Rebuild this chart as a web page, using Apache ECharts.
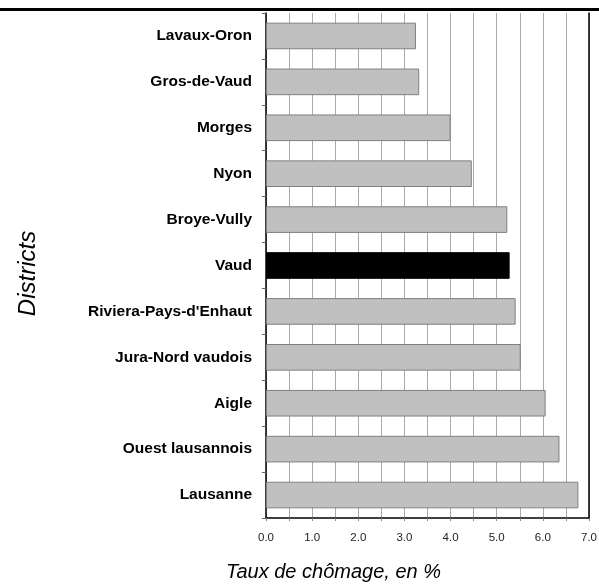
<!DOCTYPE html>
<html><head><meta charset="utf-8">
<script src="https://cdn.jsdelivr.net/npm/echarts@6/dist/echarts.min.js"></script>
<style>html,body{margin:0;padding:0;background:#fff}#c{width:599px;height:584px}</style>
</head><body><div id="c"></div>
<script>
// Categories listed top to bottom
const categories = ["Lavaux-Oron","Gros-de-Vaud","Morges","Nyon","Broye-Vully","Vaud","Riviera-Pays-d'Enhaut","Jura-Nord vaudois","Aigle","Ouest lausannois","Lausanne"];
const values = [3.25, 3.32, 4.00, 4.46, 5.23, 5.28, 5.41, 5.52, 6.06, 6.36, 6.77];
const highlight = "Vaud";
const xTicks = [0, 1, 2, 3, 4, 5, 6, 7];

const chart = echarts.init(document.getElementById('c'));
chart.setOption({
  animation: false,
  textStyle: {fontFamily: 'Liberation Sans, Arial, sans-serif'},
  graphic: [{type:'rect', shape:{x:0, y:8, width:599, height:3}, style:{fill:'#000'}}],
  grid: {left: 266, right: 10, top: 13, bottom: 66, containLabel: false, outerBoundsMode: 'none', show: false},
  xAxis: {
    type: 'value', min: xTicks[0], max: xTicks[xTicks.length-1], interval: 1,
    name: 'Taux de chômage, en %', nameLocation: 'middle', nameGap: 44,
    nameTextStyle: {fontStyle: 'italic', fontSize: 20, color: '#000', padding:[0,188,0,0]},
    axisLine: {show: true, lineStyle: {color: '#000', width: 1.5}},
    axisTick: {show: true, length: 3, lineStyle: {color: '#888'}},
    minorTick: {show: true, splitNumber: 2, length: 3, lineStyle: {color: '#888'}},
    axisLabel: {formatter: v => v.toFixed(1), fontSize: 11.5, color: '#222', margin: 14},
    splitLine: {show: true, lineStyle: {color: '#aaa', width: 1}},
    minorSplitLine: {show: true, lineStyle: {color: '#aaa', width: 1}}
  },
  yAxis: [{
    type: 'category', data: categories, inverse: true,
    name: 'Districts', nameLocation: 'middle', nameGap: 226, nameRotate: 90,
    nameTextStyle: {fontStyle: 'italic', fontSize: 24, color: '#000', padding:[0,16,0,0]},
    axisLine: {show: true, lineStyle: {color: '#000', width: 1.5}},
    axisTick: {show: true, length: 4, lineStyle: {color: '#666'}},
    axisLabel: {fontWeight: 'bold', fontSize: 15.5, color: '#000', margin: 14},
    splitLine: {show: false}
  }, {
    type: 'category', data: categories, inverse: true, position: 'right',
    axisLine: {show: true, lineStyle: {color: '#000', width: 1.5}},
    axisTick: {show: false}, axisLabel: {show: false}
  }],
  series: [{
    type: 'bar', barCategoryGap: '42%',
    data: values.map((v, i) => ({
      value: v,
      itemStyle: categories[i] === highlight
        ? {color: '#000', borderColor: '#000', borderWidth: 1}
        : {color: '#c0c0c0', borderColor: '#808080', borderWidth: 1}
    }))
  }]
});
</script></body></html>
